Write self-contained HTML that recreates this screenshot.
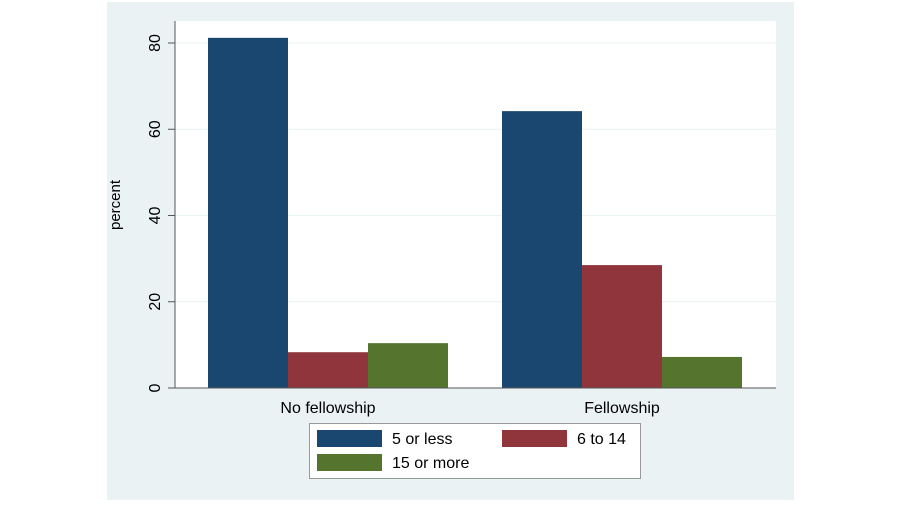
<!DOCTYPE html>
<html><head><meta charset="utf-8"><style>
body{margin:0;background:#fff;font-family:"Liberation Sans",Arial,sans-serif}
</style></head><body>
<svg width="900" height="500" xmlns="http://www.w3.org/2000/svg" font-family="Liberation Sans, Arial, sans-serif">
<rect x="107" y="2" width="687" height="498" fill="#eaf2f3"/>
<rect x="175" y="21" width="601" height="367" fill="#ffffff"/>
<g id="grid"></g>
<g id="bars"></g>
<line x1="175" y1="21" x2="175" y2="388" stroke="#555" stroke-width="1"/>
<line x1="175" y1="388" x2="776" y2="388" stroke="#555" stroke-width="1"/>
<g id="ticks"></g>
<text transform="translate(120,205) rotate(-90)" text-anchor="middle" font-size="15">percent</text>
<g id="cats"></g>
<g>
<rect x="309.5" y="423.5" width="331" height="55" fill="#fff" stroke="#999"/>
<rect x="317" y="430" width="65" height="17" fill="#1a476f"/>
<text x="392" y="444" font-size="16">5 or less</text>
<rect x="502" y="430" width="65" height="17" fill="#90353b"/>
<text x="577" y="444" font-size="16">6 to 14</text>
<rect x="317" y="454" width="65" height="17" fill="#55752f"/>
<text x="392" y="468" font-size="16">15 or more</text>
</g>
</svg>
<script>
const categories=["No fellowship","Fellowship"];
const seriesNames=["5 or less","6 to 14","15 or more"];
const s5orLess=[81.2,64.2];
const s6to14=[8.3,28.5];
const s15orMore=[10.4,7.2];
const yTicks=[0,20,40,60,80];
const colors=["#1a476f","#90353b","#55752f"];
const NS="http://www.w3.org/2000/svg";
const y=v=>388-v*4.3125;
const groupStart=i=>208+i*294;
const bw=80;
const series=[s5orLess,s6to14,s15orMore];
const gBars=document.getElementById('bars'),gGrid=document.getElementById('grid'),gT=document.getElementById('ticks'),gC=document.getElementById('cats');
function mk(t,a,p){const e=document.createElementNS(NS,t);for(const k in a)e.setAttribute(k,a[k]);p.appendChild(e);return e;}
yTicks.forEach(v=>{
  if(v>0){const g=mk('line',{x1:175,x2:776,y1:y(v),y2:y(v),stroke:'#eaf2f3'},gGrid);
  
  }
  const t=mk('line',{x1:168,x2:175,y1:y(v),y2:y(v),stroke:'#555'},gT);
  
  
  const l=mk('text',{transform:`translate(160,${y(v)}) rotate(-90)`,'text-anchor':'middle','font-size':16},gT);
  l.textContent=v;
  
  
});
categories.forEach((c,i)=>{
  series.forEach((s,j)=>{
    const r=mk('rect',{x:groupStart(i)+j*bw,y:y(s[i]),width:bw,height:388-y(s[i]),fill:colors[j]},gBars);
    
    
  });
  const t=mk('text',{x:groupStart(i)+1.5*bw,y:413,'text-anchor':'middle','font-size':16},gC);
  t.textContent=c;
  
  
});
</script>
</body></html>
